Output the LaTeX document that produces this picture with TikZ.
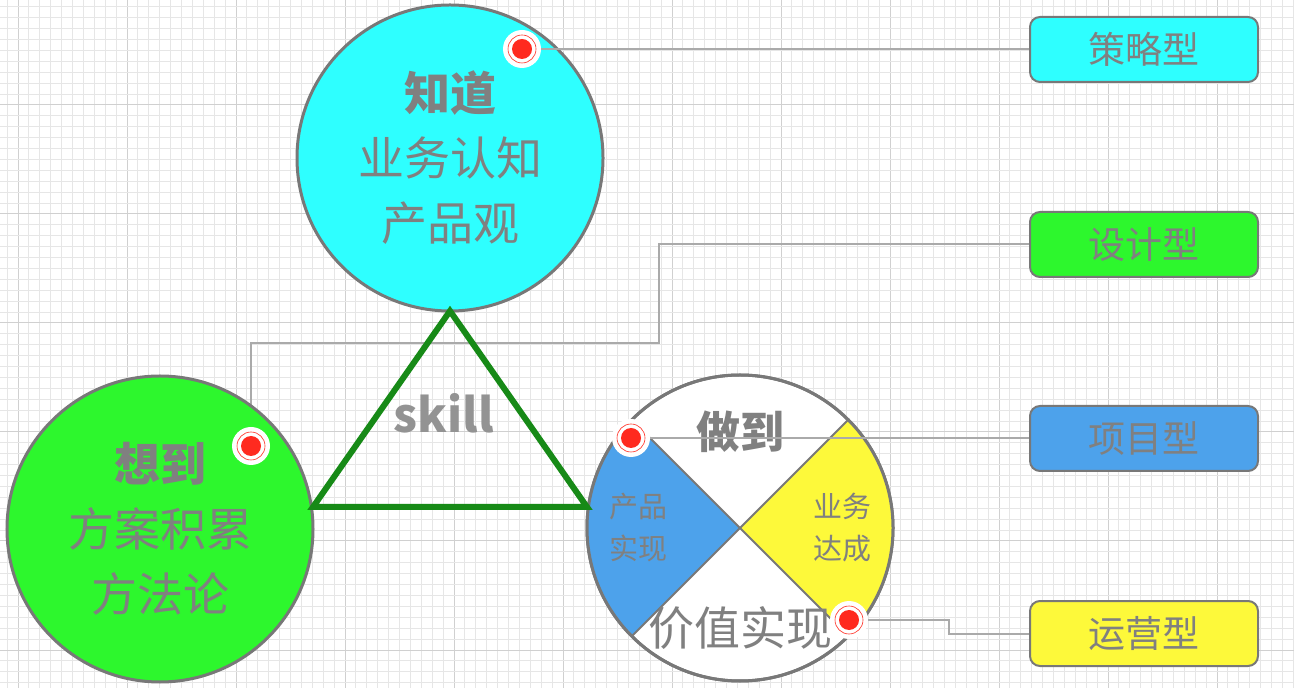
\documentclass[tikz,border=0pt]{standalone}
\usepackage{fontspec}
\setmainfont{Noto Sans CJK SC}
\usepackage{tikz}
\usetikzlibrary{positioning}

\definecolor{knowcyan}{HTML}{2EFFFF}
\definecolor{thinkgreen}{HTML}{2DF72D}
\definecolor{doblue}{HTML}{4DA2EB}
\definecolor{doyellow}{HTML}{FDF93A}
\definecolor{txtgray}{HTML}{808080}
\definecolor{rimgray}{HTML}{787878}
\definecolor{linkgray}{HTML}{AAAAAA}
\definecolor{trigreen}{HTML}{178A17}
\definecolor{dotred}{HTML}{FF2A1F}
\definecolor{minorgray}{HTML}{E6E6E6}
\definecolor{majorgray}{HTML}{D0D0D0}

\begin{document}
\begin{tikzpicture}[
    x=0.5pt, y=-0.5pt,
    minorgrid/.style={draw=minorgray, line width=0.5pt},
    majorgrid/.style={draw=majorgray, line width=0.5pt},
    ball/.style={circle, draw=rimgray, line width=1.5pt, minimum size=153pt,
                 inner sep=0pt, align=center, text=txtgray, font=\fontsize{23}{32.5}\selectfont},
    tag/.style={draw=rimgray, line width=1pt, rounded corners=5pt, minimum width=114pt,
                minimum height=32.5pt, text=txtgray, font=\fontsize{18.5}{20}\selectfont},
    link/.style={draw=linkgray, line width=1pt},
    reddot/.style={circle, fill=white, inner sep=0pt, minimum size=19pt,
                   path picture={
                     \fill[dotred] (path picture bounding box.center) circle (5pt);
                     \draw[dotred, line width=0.3pt] (path picture bounding box.center) circle (7pt);}},
    lbl/.style={text=txtgray, inner sep=0pt, align=center}
  ]
  \useasboundingbox (0,0) rectangle (1294,688);
  \fill[white] (0,0) rectangle (1294,688);

  % Background grid.
  \begin{scope}
    \clip (0,0) rectangle (1294,688);
    \foreach \k in {-1,...,118} {
      \pgfmathtruncatemacro{\m}{mod(\k+10,10)}
      \ifnum\m=0 \draw[majorgrid] ({18+10.9*\k},0) -- ({18+10.9*\k},688);
      \else \draw[minorgrid] ({18+10.9*\k},0) -- ({18+10.9*\k},688); \fi
    }
    \foreach \k in {0,...,64} {
      \pgfmathtruncatemacro{\m}{mod(\k,10)}
      \ifnum\m=0 \draw[majorgrid] (0,{-4+10.9*\k}) -- (1294,{-4+10.9*\k});
      \else \draw[minorgrid] (0,{-4+10.9*\k}) -- (1294,{-4+10.9*\k}); \fi
    }
  \end{scope}

  % Category tags.
  \node[tag, fill=knowcyan]   (strategy) at (1144,49.5)  {策略型};
  \node[tag, fill=thinkgreen] (design)   at (1144,244.5) {设计型};
  \node[tag, fill=doblue]     (project)  at (1144,438.5) {项目型};
  \node[tag, fill=doyellow]   (operate)  at (1144,633.5) {运营型};

  % Markers.
  \coordinate (mKnow)    at (522,49);
  \coordinate (mThink)   at (251,446);
  \coordinate (mProduct) at (631,438);
  \coordinate (mResult)  at (849,620);
  \coordinate (bendThink)  at (659,343);
  \coordinate (bendResult) at (949,633);

  \draw[link] (mThink) |- (bendThink) |- (design.west);

  % Three circles.
  \node[ball, fill=knowcyan] (know) at (450,158)
    {\textbf{知道}\\业务认知\\产品观};
  \node[ball, fill=thinkgreen] (think) at (160,529)
    {\textbf{想到}\\方案积累\\方法论};
  \node[ball, fill=white] (do) at (740,528) {};
  \fill[doblue] (do.center) -- ++(135:153) arc (135:225:153) -- cycle;
  \fill[doyellow] (do.center) -- ++(-45:153) arc (-45:45:153) -- cycle;
  \draw[rimgray, line width=1pt] (do.center) -- ++(45:153) (do.center) -- ++(135:153)
    (do.center) -- ++(225:153) (do.center) -- ++(-45:153);
  \draw[rimgray, line width=1.5pt] (do) circle (153);

  \node[lbl, font=\fontsize{22}{26}\selectfont\bfseries] (doTitle) at (740,432) {做到};
  \node[lbl, font=\fontsize{14.5}{21}\selectfont] (doProduct) at (638,528) {产品\\实现};
  \node[lbl, font=\fontsize{14.5}{21}\selectfont] (doBiz) at (842,528) {业务\\达成};
  \node[lbl, font=\fontsize{23}{26}\selectfont] (doValue) at (740,628) {价值实现};

  % Skill triangle.
  \coordinate (triTop) at (450,311);
  \coordinate (triLeft) at (313,507);
  \coordinate (triRight) at (587,507);
  \draw[trigreen, line width=3pt, line join=miter] (triTop) -- (triRight) -- (triLeft) -- cycle;
  \node[lbl, text=txtgray!85, font=\fontsize{23.5}{26}\selectfont\bfseries] (skill) at (444,413) {skill};

  % Connectors to tags.
  \draw[link] (mKnow) -- (mKnow -| strategy.west);
  \draw[link] (mProduct) -- (mProduct -| project.west);
  \draw[link] (mResult) -| (bendResult) |- (operate.west);

  \node[reddot] (dotKnow)    at (mKnow) {};
  \node[reddot] (dotThink)   at (mThink) {};
  \node[reddot] (dotProduct) at (mProduct) {};
  \node[reddot] (dotResult)  at (mResult) {};
\end{tikzpicture}
\end{document}
